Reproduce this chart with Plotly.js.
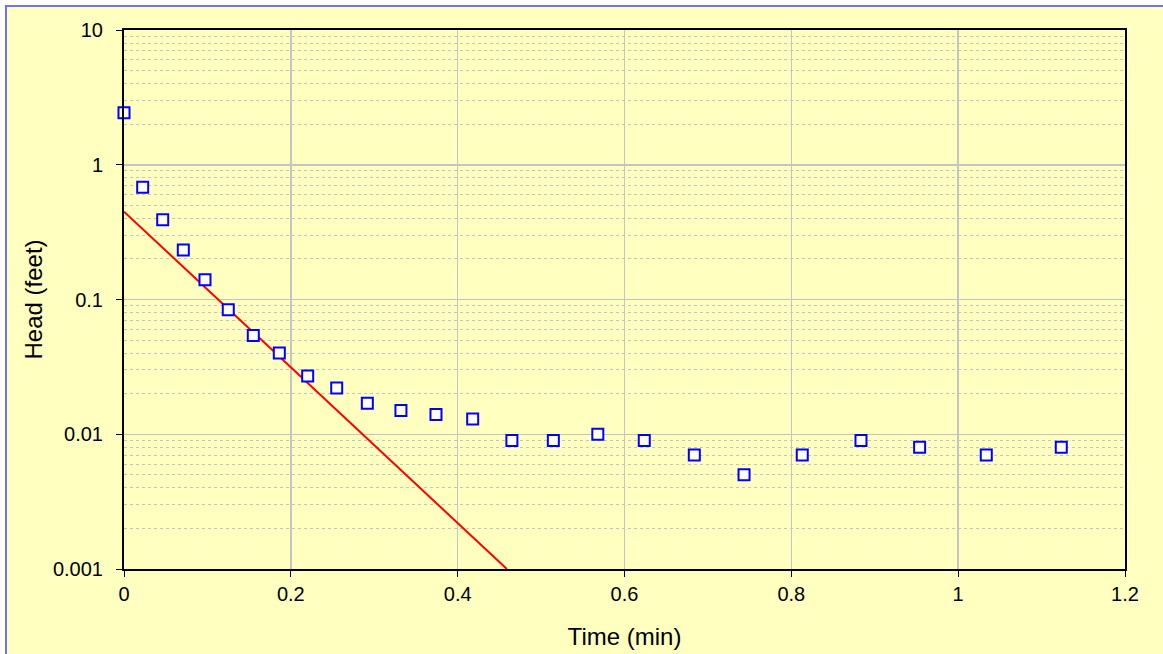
<!DOCTYPE html>
<html>
<head>
<meta charset="utf-8">
<script src="https://cdn.plot.ly/plotly-3.0.1.min.js"></script>
<style>
  html, body { margin:0; padding:0; background:#ffffff; overflow:hidden; }
  #bg { position:absolute; left:5px; top:5px; width:1170px; height:670px;
        background:#FFFFC0; border-left:2px solid #7070FF; border-top:2px solid #7070FF; box-sizing:border-box; }
  #chart { position:absolute; left:0; top:0; width:1163px; height:654px; }
</style>
</head>
<body>
<div id="bg"></div>
<div id="chart"></div>
<script>
// Observed data: time (min) vs head (feet)
const timeMin = [0, 0.0224, 0.0464, 0.0711, 0.0971, 0.125, 0.155, 0.1862, 0.2202, 0.255,
                 0.2917, 0.332, 0.374, 0.418, 0.465, 0.5147, 0.568, 0.6237, 0.6837, 0.7433,
                 0.8131, 0.8835, 0.9538, 1.0337, 1.1236];
const headFt  = [2.43, 0.68, 0.39, 0.233, 0.14, 0.084, 0.054, 0.04, 0.027, 0.022,
                 0.017, 0.015, 0.014, 0.013, 0.009, 0.009, 0.01, 0.009, 0.007, 0.005,
                 0.007, 0.009, 0.008, 0.007, 0.008];

// Fitted straight line (endpoints)
const fitTime = [0, 0.459];
const fitHead = [0.449, 0.001];

// Axis ticks
const xTickVals = [0, 0.2, 0.4, 0.6, 0.8, 1, 1.2];
const xTickText = ["0", "0.2", "0.4", "0.6", "0.8", "1", "1.2"];
const yTickVals = [0.001, 0.01, 0.1, 1, 10];
const yTickText = ["0.001", "0.01", "0.1", "1", "10"];

const font = "Liberation Sans, Arial, sans-serif";

const traces = [
  {
    x: fitTime, y: fitHead, type: 'scatter', mode: 'lines',
    line: {color: '#FF0000', width: 2}, hoverinfo: 'skip', cliponaxis: true
  },
  {
    x: timeMin, y: headFt, type: 'scatter', mode: 'markers',
    marker: {symbol: 'square', size: 11, color: '#FFFFFF', line: {color: '#0000FF', width: 2}},
    cliponaxis: false
  }
];

const layout = {
  width: 1163, height: 654,
  margin: {l: 124, r: 38, t: 30, b: 85},
  paper_bgcolor: 'rgba(0,0,0,0)',
  plot_bgcolor: '#FFFFC0',
  showlegend: false,
  font: {family: font, color: '#000000', size: 20},
  xaxis: {
    range: [0, 1.2], tickvals: xTickVals, ticktext: xTickText,
    showgrid: true, gridcolor: '#C4C4C4', gridwidth: 1.5,
    zeroline: false,
    showline: true, linecolor: '#000000', linewidth: 2, mirror: true,
    ticks: 'outside', ticklen: 6, tickcolor: '#000000', tickwidth: 1,
    ticklabelstandoff: 0,
    tickfont: {family: font, size: 20, color: '#000000'},
    title: {text: 'Time (min)', font: {family: font, size: 24, color: '#000000'}, standoff: 24}
  },
  yaxis: {
    type: 'log', range: [-3, 1], tickvals: yTickVals, ticktext: yTickText,
    showgrid: true, gridcolor: '#C4C4C4', gridwidth: 1.5,
    minor: {dtick: 'D1', showgrid: true, gridcolor: '#C4C4C4', griddash: 'dot', gridwidth: 1, ticks: ''},
    zeroline: false,
    showline: true, linecolor: '#000000', linewidth: 2, mirror: true,
    ticks: 'outside', ticklen: 6, tickcolor: '#000000', tickwidth: 1,
    ticklabelstandoff: 9,
    tickfont: {family: font, size: 20, color: '#000000'},
    title: {text: 'Head (feet)', font: {family: font, size: 24, color: '#000000'}, standoff: 4}
  }
};

Plotly.newPlot('chart', traces, layout, {displayModeBar: false, staticPlot: true});
</script>
</body>
</html>
